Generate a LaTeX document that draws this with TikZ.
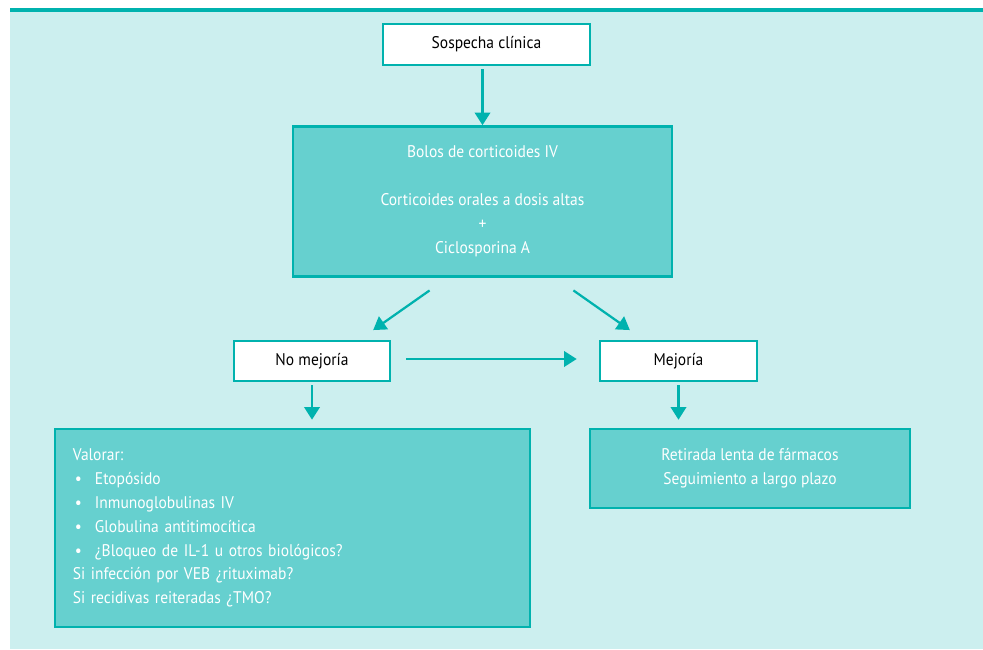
\documentclass[tikz,border=0pt]{standalone}
\usepackage{fontspec}
\setmainfont[FakeStretch=0.92]{PT Sans}
\usetikzlibrary{arrows.meta}
\definecolor{bgcyan}{HTML}{CCEFEF}
\definecolor{tealline}{HTML}{00B2AE}
\definecolor{tealfill}{HTML}{66D0CF}
\tikzset{
  box/.style={draw=tealline, line width=1.8pt, rectangle, inner sep=0pt,
    font=\fontsize{12}{17}\selectfont},
  whitebox/.style={box, fill=white, text=black},
  tealbox/.style={box, fill=tealfill, text=white},
  arrow/.style={draw=tealline, line width=1.6pt, -{Triangle[length=9pt,width=11pt]}}
}
\begin{document}
\begin{tikzpicture}[x=0.025cm, y=-0.025cm]
  \useasboundingbox (0,0) rectangle (983,649);
  \fill[bgcyan] (10,9) rectangle (983,649);
  \draw[tealline, line width=2.2pt] (10,10) -- (983,10);
  \draw
    (486.5,44.5) node[whitebox, minimum width=5.175cm, minimum height=1.025cm] (sosp) {Sospecha clínica}
    (482.5,201.5) node[tealbox, minimum width=9.475cm, minimum height=3.75cm, align=center] (bolos)
      {Bolos de corticoides IV\\[17pt]Corticoides orales a dosis altas\\+\\Ciclosporina A}
    (312,361) node[whitebox, minimum width=3.9cm, minimum height=1cm] (nomej) {No mejoría}
    (678.5,361) node[whitebox, minimum width=3.925cm, minimum height=1cm] (mej) {Mejoría}
    (292.5,528) node[tealbox, minimum width=11.875cm, minimum height=4.95cm,
      text width=11.875cm-0.9cm, align=left] (valorar)
      {Valorar:\\
       \makebox[0.55cm][l]{\hspace{0.05cm}\textbullet}Etopósido\\
       \makebox[0.55cm][l]{\hspace{0.05cm}\textbullet}Inmunoglobulinas IV\\
       \makebox[0.55cm][l]{\hspace{0.05cm}\textbullet}Globulina antitimocítica\\
       \makebox[0.55cm][l]{\hspace{0.05cm}\textbullet}¿Bloqueo de IL-1 u otros biológicos?\\
       Si infección por VEB ¿rituximab?\\
       Si recidivas reiteradas ¿TMO?}
    (750,468.5) node[tealbox, minimum width=8cm, minimum height=1.975cm, align=center] (retirada)
      {Retirada lenta de fármacos\\Seguimiento a largo plazo};
  \begin{scope}[arrow]
    \draw[shorten <=0.075cm] (bolos.north |- sosp.south) to (bolos.north);
    \draw[shorten <=0.55cm, shorten >=0.42cm] ([xshift=-0.8725cm]bolos.south) to ([xshift=1.185cm]nomej.north);
    \draw[shorten <=0.55cm, shorten >=0.42cm] ([xshift=1.8225cm]bolos.south) to ([xshift=-0.8725cm]mej.north);
    \draw[shorten <=0.375cm, shorten >=0.55cm] ([yshift=0.05cm]nomej.east) to ([yshift=0.05cm]mej.west);
    \draw[shorten <=0.075cm, shorten >=0.2cm] (nomej.south) to (nomej.south |- valorar.north);
    \draw[shorten <=0.075cm, shorten >=0.2cm] (mej.south) to (mej.south |- retirada.north);
  \end{scope}
\end{tikzpicture}
\end{document}
